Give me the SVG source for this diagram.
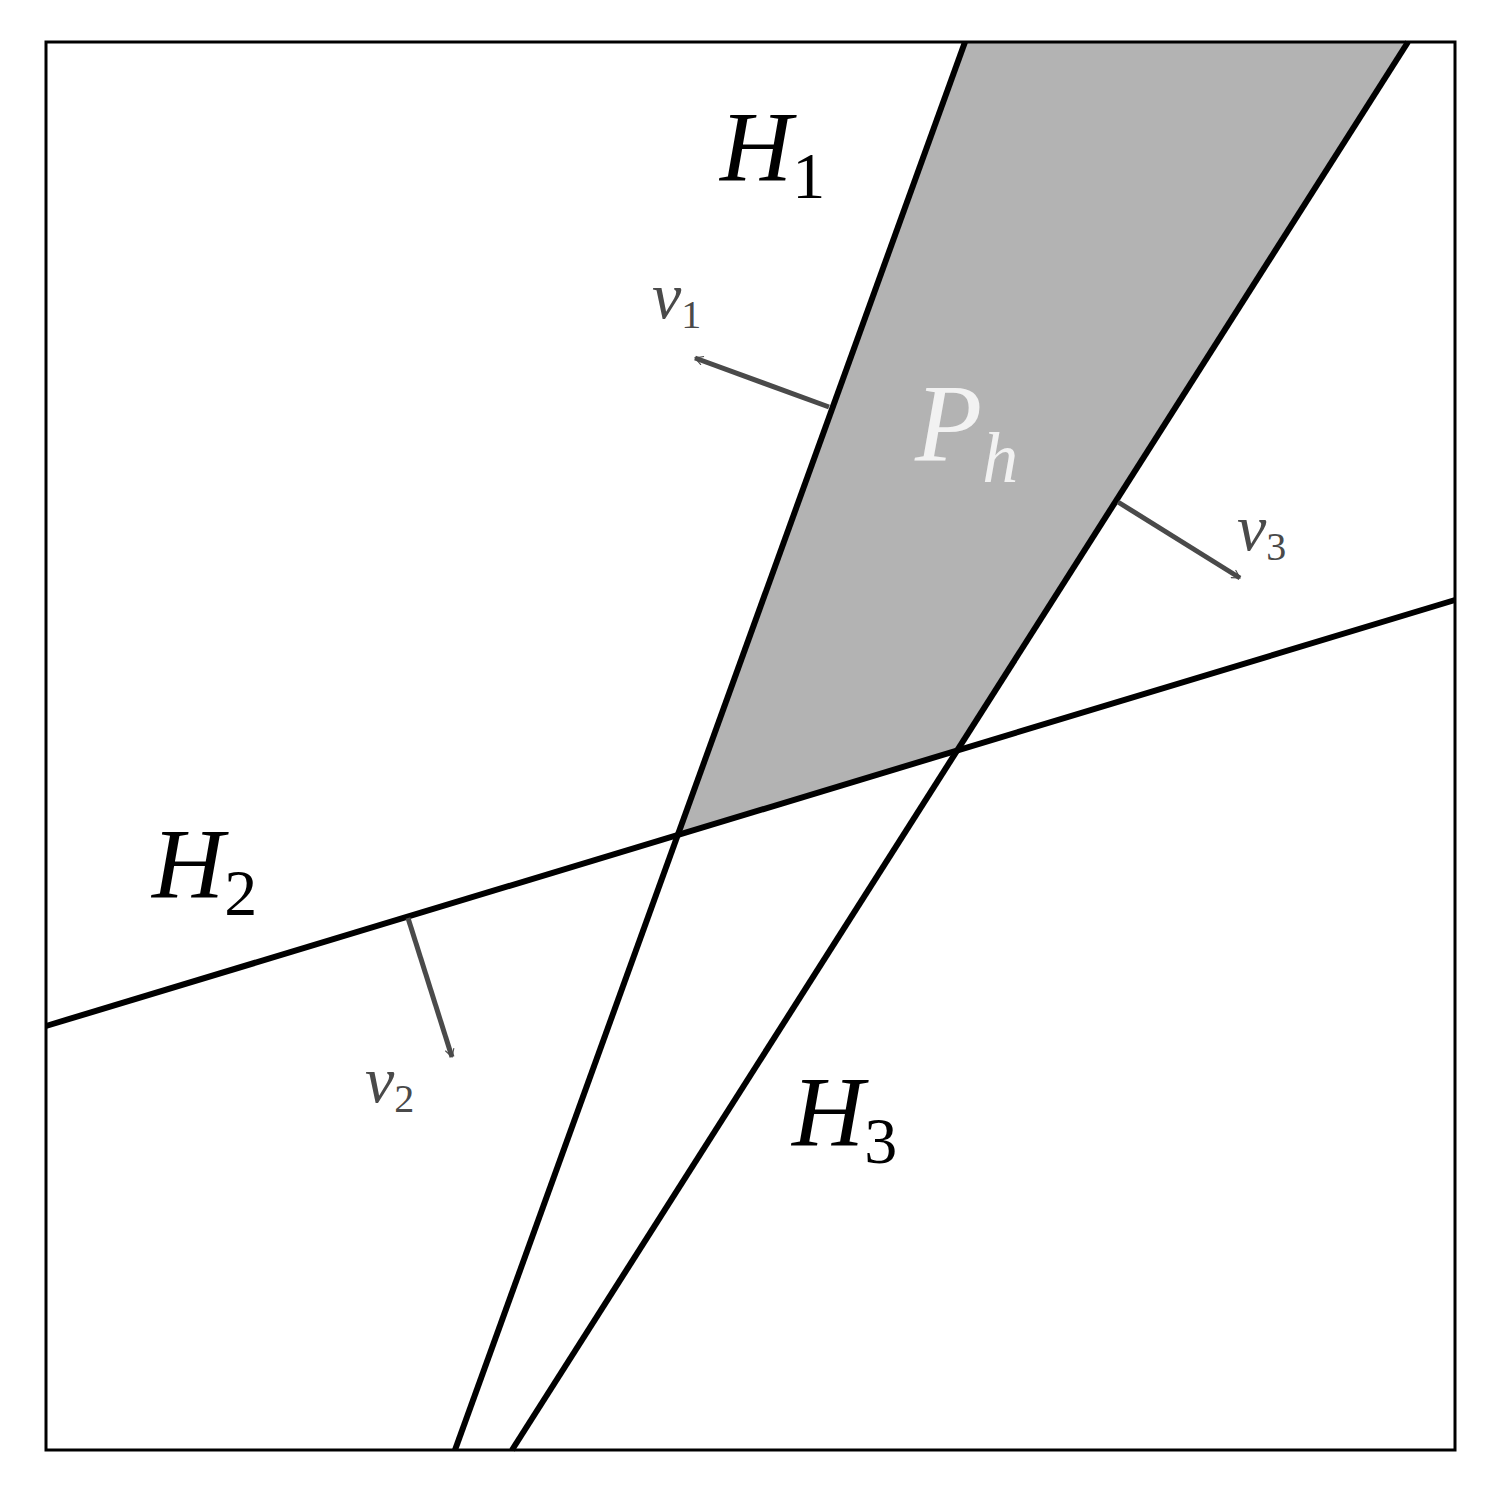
<svg xmlns="http://www.w3.org/2000/svg" width="1501" height="1501" viewBox="0 0 1501 1501">
<style>
.ln{stroke:#000;stroke-width:6;fill:none}
.ar{stroke:#4a4a4a;stroke-width:5;fill:none}
.m{font-family:"Liberation Serif","DejaVu Serif",serif;font-style:italic}
</style>
<defs>
<marker id="ah" viewBox="0 0 20 20" refX="18" refY="10" markerWidth="10" markerHeight="10" orient="auto" markerUnits="userSpaceOnUse">
<path d="M2 1 L18 10 L2 19" fill="none" stroke="#4a4a4a" stroke-width="2.2"/>
</marker>
</defs>
<rect x="0" y="0" width="1501" height="1501" fill="#fff"/>
<polygon points="965,42 1408,42 957,749 679,833" fill="#b3b3b3"/>
<rect x="46" y="42" width="1409" height="1408" fill="none" stroke="#000" stroke-width="3"/>
<g id="lines">
<line class="ln" x1="965" y1="42" x2="455" y2="1450"/>
<line class="ln" x1="1408" y1="42" x2="512" y2="1450"/>
<line class="ln" x1="46" y1="1026" x2="1455" y2="600"/>
</g>
<g id="arrows">
<line class="ar" x1="829" y1="407" x2="695" y2="358" marker-end="url(#ah)"/>
<line class="ar" x1="408" y1="918" x2="452" y2="1057" marker-end="url(#ah)"/>
<line class="ar" x1="1118" y1="502" x2="1240" y2="578" marker-end="url(#ah)"/>
</g>
<g id="labels">
<text class="m" x="720" y="180" font-size="100">H<tspan font-size="66" font-style="normal" dy="18">1</tspan></text>
<text class="m" x="152" y="897" font-size="100">H<tspan font-size="66" font-style="normal" dy="18">2</tspan></text>
<text class="m" x="792" y="1145" font-size="100">H<tspan font-size="66" font-style="normal" dy="18">3</tspan></text>
<text class="m" x="915" y="460" font-size="110" fill="#f2f2f2">P<tspan font-size="72" dy="22">h</tspan></text>
<text class="m" x="652" y="318" font-size="66" fill="#4a4a4a">v<tspan font-size="40" font-style="normal" dy="10">1</tspan></text>
<text class="m" x="365" y="1102" font-size="66" fill="#4a4a4a">v<tspan font-size="40" font-style="normal" dy="10">2</tspan></text>
<text class="m" x="1237" y="550" font-size="66" fill="#4a4a4a">v<tspan font-size="40" font-style="normal" dy="10">3</tspan></text>
</g>
</svg>
